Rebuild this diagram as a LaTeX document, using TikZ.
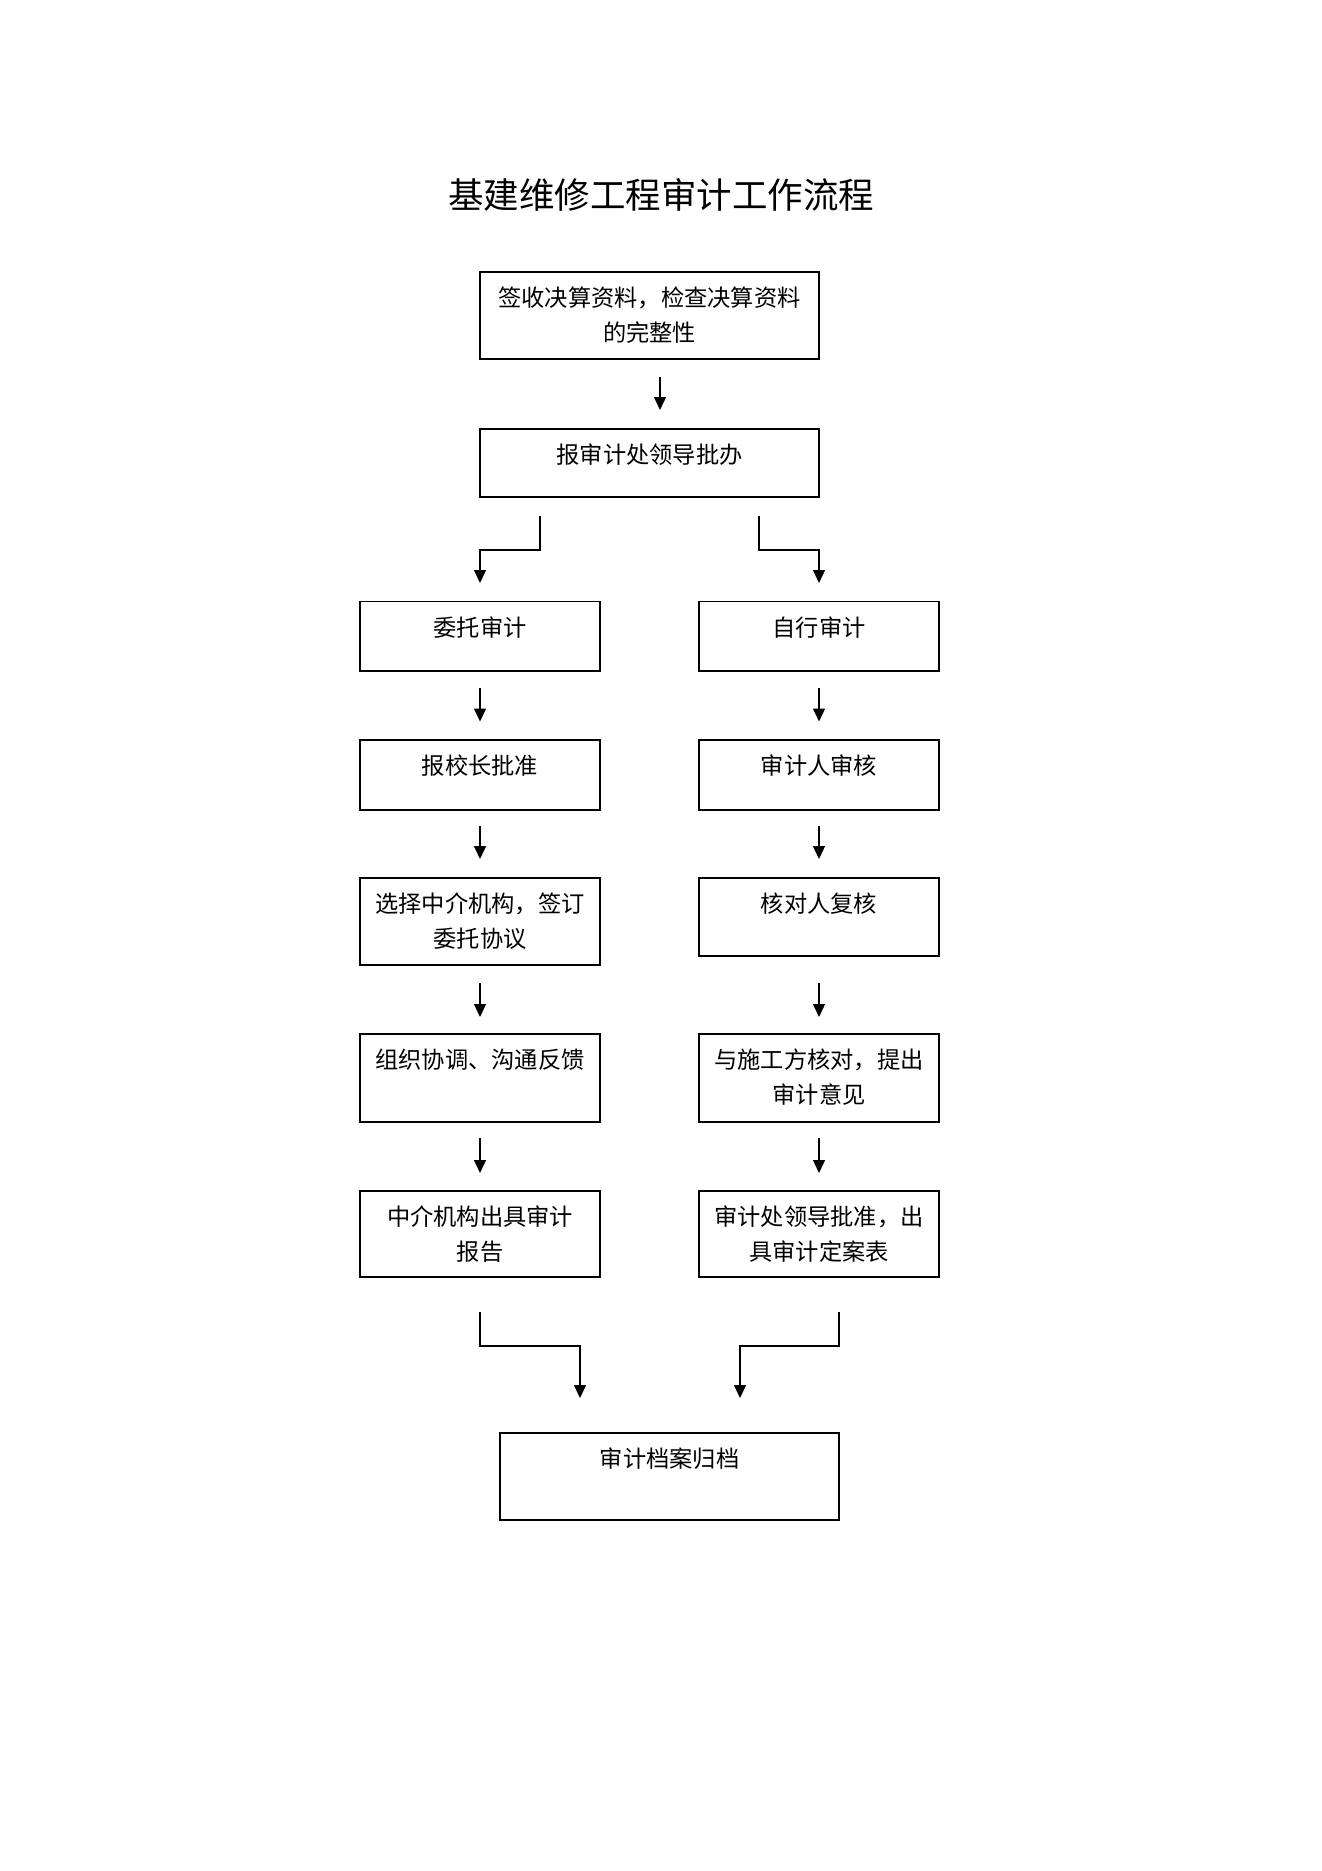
\documentclass[tikz,border=0pt]{standalone}
\usepackage{fontspec}
\newfontfamily\cjk{Noto Sans CJK SC}
\usetikzlibrary{arrows.meta}
\begin{document}
\begin{tikzpicture}[x=1pt,y=-1pt,
  box/.style={draw, line width=1.3pt, inner sep=0pt, outer sep=0pt},
  txt/.style={anchor=north, inner sep=0pt, align=center,
    font=\cjk\fontsize{23.25}{35}\selectfont},
  arr/.style={draw, line width=1.3pt, -{Triangle[width=12pt,length=13pt]}}
]
\path[fill=white] (0,0) rectangle (1322,1871);

\node[inner sep=0pt, font=\cjk\fontsize{35.5}{40}\selectfont] (title) at (661,195) {基建维修工程审计工作流程};

% top boxes
\node[box, minimum width=339pt, minimum height=87pt] (b1) at (649.5,315.5) {};
\node[txt] (t1) at ([yshift=-15pt]b1.north) {签收决算资料，检查决算资料\\的完整性};
\node[box, minimum width=339pt, minimum height=68pt] (b2) at (649.5,463) {};
\node[txt] (t2) at ([yshift=-15pt]b2.north) {报审计处领导批办};

% left column
\node[box, minimum width=240pt, minimum height=69.5pt] (L1) at (480,636.25) {};
\node[txt] (tl1) at ([yshift=-15pt]L1.north) {委托审计};
\node[box, minimum width=240pt, minimum height=70pt] (L2) at (480,775) {};
\node[txt] (tl2) at ([yshift=-15pt]L2.north) {报校长批准};
\node[box, minimum width=240pt, minimum height=87pt] (L3) at (480,921.5) {};
\node[txt] (tl3) at ([yshift=-15pt]L3.north) {选择中介机构，签订\\委托协议};
\node[box, minimum width=240pt, minimum height=88pt] (L4) at (480,1078) {};
\node[txt] (tl4) at ([yshift=-15pt]L4.north) {组织协调、沟通反馈};
\node[box, minimum width=240pt, minimum height=86pt] (L5) at (480,1234) {};
\node[txt] (tl5) at ([yshift=-15pt]L5.north) {中介机构出具审计\\报告};

% right column
\node[box, minimum width=240pt, minimum height=69.5pt] (R1) at (819,636.25) {};
\node[txt] (tr1) at ([yshift=-15pt]R1.north) {自行审计};
\node[box, minimum width=240pt, minimum height=70pt] (R2) at (819,775) {};
\node[txt] (tr2) at ([yshift=-15pt]R2.north) {审计人审核};
\node[box, minimum width=240pt, minimum height=78pt] (R3) at (819,917) {};
\node[txt] (tr3) at ([yshift=-15pt]R3.north) {核对人复核};
\node[box, minimum width=240pt, minimum height=88pt] (R4) at (819,1078) {};
\node[txt] (tr4) at ([yshift=-15pt]R4.north) {与施工方核对，提出\\审计意见};
\node[box, minimum width=240pt, minimum height=86pt] (R5) at (819,1234) {};
\node[txt] (tr5) at ([yshift=-15pt]R5.north) {审计处领导批准，出\\具审计定案表};

% final box
\node[box, minimum width=339pt, minimum height=87pt] (F) at (669.5,1476.5) {};
\node[txt] (tf) at ([yshift=-15pt]F.north) {审计档案归档};

% arrows
\draw[arr, shorten <=18pt, shorten >=19pt] ([xshift=10.5pt]b1.south) -- ([xshift=10.5pt]b2.north);
\draw[arr] ([xshift=-109.5pt,yshift=-19pt]b2.south) -- ++(0,34) -| ([yshift=18.5pt]L1.north);
\draw[arr] ([xshift=109.5pt,yshift=-19pt]b2.south) -- ++(0,34) -| ([yshift=18.5pt]R1.north);

\draw[arr, shorten <=17pt, shorten >=18.5pt] (L1.south) -- (L2.north);
\draw[arr, shorten <=16pt, shorten >=19pt] (L2.south) -- (L3.north);
\draw[arr, shorten <=18pt, shorten >=17pt] (L3.south) -- (L4.north);
\draw[arr, shorten <=16pt, shorten >=18pt] (L4.south) -- (L5.north);

\draw[arr, shorten <=17pt, shorten >=18.5pt] (R1.south) -- (R2.north);
\draw[arr, shorten <=16pt, shorten >=19pt] (R2.south) -- (R3.north);
\draw[arr, shorten <=27pt, shorten >=17pt] (R3.south) -- (R4.north);
\draw[arr, shorten <=16pt, shorten >=18pt] (R4.south) -- (R5.north);

\draw[arr] ([yshift=-35pt]L5.south) -- ++(0,34) -| ([xshift=-89.5pt,yshift=35pt]F.north);
\draw[arr] ([xshift=20pt,yshift=-35pt]R5.south) -- ++(0,34) -| ([xshift=70.5pt,yshift=35pt]F.north);
\end{tikzpicture}
\end{document}
